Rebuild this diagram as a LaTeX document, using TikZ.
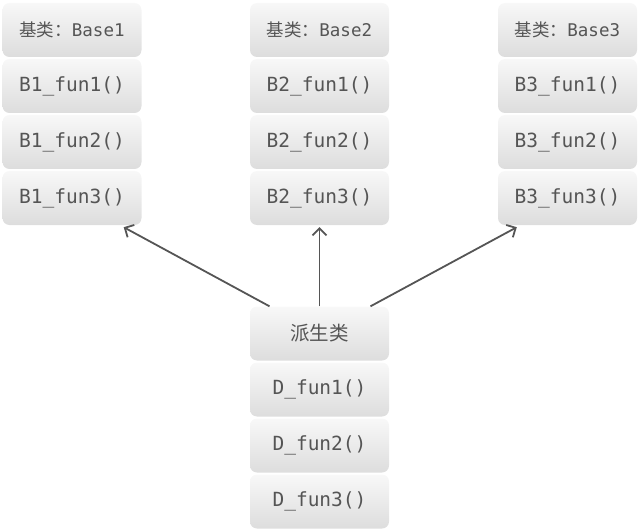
\documentclass[tikz,border=0pt]{standalone}
\usepackage{fontspec}
\setmonofont{DejaVu Sans Mono}
\newfontfamily\cjk{Noto Sans CJK SC}
\usetikzlibrary{arrows.meta,calc}
\definecolor{txtgray}{HTML}{555555}
\definecolor{boxtop}{HTML}{F8F8F8}
\definecolor{boxbot}{HTML}{DDDDDD}

\begin{document}
\begin{tikzpicture}[x=1pt,y=-1pt,
    box/.style={rounded corners=7pt, minimum width=139pt, minimum height=54pt, inner sep=0pt,
      top color=boxtop, bottom color=boxbot, draw=none, text=txtgray,
      font=\ttfamily\fontsize{19.5}{20}\selectfont},
    head/.style={box, font=\ttfamily\fontsize{17.5}{18}\selectfont},
    link/.style={draw=txtgray, line width=1.8pt, -{Straight Barb[length=7pt,width=14pt]}}]
    \useasboundingbox (0,0) rectangle (640,532);
    % base classes
    \foreach \n/\x in {1/72, 2/319.5, 3/567.5} {
        \node[head] (b\n0) at (\x,30) {{\cjk 基类：}Base\n};
        \foreach \k in {1,2,3}
            \node[box] (b\n\k) at (\x,30+56*\k) {B\n\_fun\k()};
    }
    % derived class
    \node[box] (d0) at (319.5,333.5) {\cjk 派生类};
    \foreach \k in {1,2,3}
        \node[box] (d\k) at (319.5,333.5+56*\k) {D\_fun\k()};
    \draw[link] ($(d0.north)+(-50,0)$) -- ($(b13.south east)+(-18,2)$);
    \draw[link] (d0.north) -- ($(b23.south)+(0,2)$);
    \draw[link] ($(d0.north)+(51,0)$) -- ($(b33.south west)+(19,2)$);
\end{tikzpicture}
\end{document}
